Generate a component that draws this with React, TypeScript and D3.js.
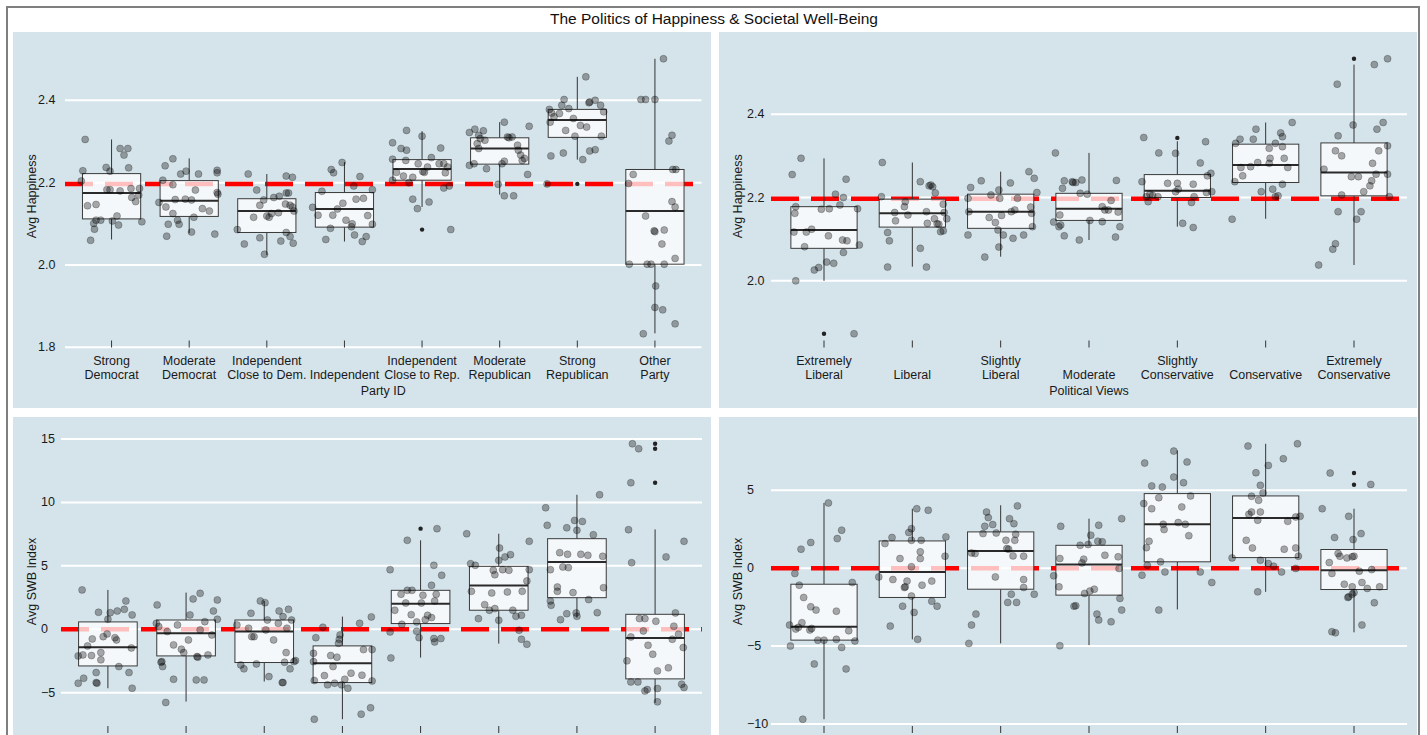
import React from "react";
import * as d3 from "d3";

const FONT = "'Liberation Sans', Arial, Helvetica, sans-serif";

// ---------- categories ----------
const partyCats = [
  "Strong\nDemocrat",
  "Moderate\nDemocrat",
  "Independent\nClose to Dem.",
  "Independent",
  "Independent\nClose to Rep.",
  "Moderate\nRepublican",
  "Strong\nRepublican",
  "Other\nParty",
];
const viewCats = [
  "Extremely\nLiberal",
  "Liberal",
  "Slightly\nLiberal",
  "Moderate",
  "Slightly\nConservative",
  "Conservative",
  "Extremely\nConservative",
];

// ---------- tick values ----------
const hapPartyTicks = [1.8, 2.0, 2.2, 2.4];
const hapViewTicks = [2.0, 2.2, 2.4];
const swbPartyTicks = [-5, 0, 5, 10, 15];
const swbViewTicks = [-10, -5, 0, 5];

// ---------- reference (overall mean) ----------
const hapMean = 2.197;
const swbMean = 0;

// ---------- box stats: Happiness by Party ----------
const hpQ3 = [2.222, 2.205, 2.161, 2.176, 2.256, 2.309, 2.378, 2.232];
const hpMed = [2.175, 2.156, 2.131, 2.136, 2.233, 2.283, 2.352, 2.131];
const hpQ1 = [2.112, 2.118, 2.079, 2.092, 2.206, 2.245, 2.31, 2.002];
const hpHi = [2.305, 2.259, 2.221, 2.25, 2.325, 2.347, 2.457, 2.501];
const hpLo = [2.062, 2.077, 2.024, 2.057, 2.141, 2.171, 2.256, 1.834];
const hpOut = [[], [], [], [], [2.086], [], [2.197], []];

// ---------- box stats: Happiness by Political Views ----------
const hvQ3 = [2.178, 2.196, 2.208, 2.21, 2.255, 2.328, 2.331];
const hvMed = [2.122, 2.162, 2.166, 2.173, 2.216, 2.278, 2.26];
const hvQ1 = [2.078, 2.129, 2.126, 2.145, 2.2, 2.236, 2.204];
const hvHi = [2.294, 2.284, 2.262, 2.307, 2.335, 2.38, 2.519];
const hvLo = [2.0, 2.034, 2.058, 2.098, 2.13, 2.149, 2.038];
const hvOut = [[1.873], [], [], [], [2.343], [], [2.533]];

// ---------- box stats: SWB by Party ----------
const spQ3 = [0.58, 0.73, 0.73, -1.31, 3.07, 4.96, 7.14, 1.18];
const spMed = [-1.42, -0.31, -0.18, -2.68, 2.02, 3.44, 5.3, -0.68];
const spQ1 = [-2.89, -2.1, -2.62, -4.2, 0.45, 1.5, 2.49, -3.91];
const spHi = [3.1, 2.89, 2.23, 1.0, 7.01, 7.53, 10.6, 7.87];
const spLo = [-4.65, -5.7, -4.12, -7.09, -2.23, -1.13, 0.92, -5.8];
const spOut = [[], [], [], [], [7.93], [], [], [14.62, 14.23, 11.55]];

// ---------- box stats: SWB by Political Views ----------
const svQ3 = [-1.03, 1.75, 2.33, 1.47, 4.79, 4.64, 1.2];
const svMed = [-3.76, -0.24, 1.11, 0.24, 2.82, 3.23, -0.13];
const svQ1 = [-4.62, -1.88, -1.35, -1.73, 0.41, 0.68, -1.37];
const svHi = [4.19, 3.82, 4.04, 3.18, 7.56, 7.99, 3.82];
const svLo = [-9.7, -4.57, -4.83, -4.94, -2.65, -1.52, -4.12];
const svOut = [[], [], [], [], [], [], [6.11, 5.36]];

// ---------- jittered points: [value, jitter (fraction of category step)] ----------
const hpPts: number[][][] = [
  [[2.305,-0.34],[2.229,-0.37],[2.204,-0.39],[2.144,-0.31],[2.147,-0.2],[2.101,-0.23],[2.109,-0.2],[2.087,-0.22],[2.06,-0.27],[2.109,-0.14],[2.237,-0.07],[2.228,-0.02],[2.183,-0.06],[2.183,-0.02],[2.107,0.01],[2.119,0.07],[2.097,0.09],[2.18,0.11],[2.283,0.11],[2.283,0.21],[2.267,0.16],[2.236,0.22],[2.186,0.25],[2.164,0.26],[2.154,0.31],[2.17,0.35],[2.186,0.36],[2.105,0.39]],
  [[2.241,-0.31],[2.258,-0.21],[2.206,-0.34],[2.152,-0.39],[2.141,-0.3],[2.099,-0.27],[2.07,-0.29],[2.195,-0.21],[2.159,-0.18],[2.099,-0.13],[2.109,-0.15],[2.125,-0.21],[2.221,-0.11],[2.228,-0.04],[2.16,-0.05],[2.158,0.03],[2.182,0.08],[2.116,0.06],[2.08,0.03],[2.221,0.12],[2.137,0.17],[2.131,0.26],[2.23,0.36],[2.224,0.36],[2.176,0.36],[2.075,0.33],[2.172,0.37]],
  [[2.221,-0.24],[2.086,-0.38],[2.051,-0.29],[2.116,-0.17],[2.182,-0.13],[2.158,-0.04],[2.145,-0.09],[2.066,-0.09],[2.026,-0.03],[2.116,0.03],[2.125,0.06],[2.164,0.09],[2.167,0.16],[2.127,0.15],[2.058,0.18],[2.216,0.25],[2.213,0.33],[2.175,0.25],[2.175,0.28],[2.148,0.24],[2.145,0.3],[2.141,0.33],[2.131,0.35],[2.079,0.25],[2.069,0.3],[2.053,0.34],[2.119,0.0]],
  [[2.249,-0.03],[2.232,-0.17],[2.224,-0.14],[2.179,-0.29],[2.14,-0.41],[2.121,-0.34],[2.089,-0.18],[2.062,-0.24],[2.121,-0.15],[2.136,-0.09],[2.15,-0.02],[2.109,0.02],[2.093,0.09],[2.073,0.13],[2.192,0.12],[2.162,0.245],[2.183,0.36],[2.099,0.36],[2.069,0.28],[2.057,0.23],[2.215,0.2],[2.16,0.15],[2.12,0.3],[2.1,0.1]],
  [[2.327,-0.2],[2.297,-0.38],[2.283,-0.27],[2.279,-0.2],[2.257,-0.38],[2.254,-0.21],[2.225,-0.33],[2.216,-0.24],[2.213,-0.12],[2.206,-0.38],[2.2,-0.17],[2.16,-0.12],[2.137,-0.06],[2.313,0.0],[2.246,-0.05],[2.225,0.03],[2.153,0.09],[2.261,0.12],[2.238,0.07],[2.284,0.24],[2.246,0.22],[2.246,0.28],[2.224,0.3],[2.238,0.33],[2.187,0.28],[2.192,0.35],[2.086,0.37],[2.227,0.01]],
  [[2.322,-0.39],[2.33,-0.32],[2.326,-0.21],[2.315,-0.27],[2.307,-0.25],[2.303,-0.19],[2.295,-0.29],[2.283,-0.27],[2.242,-0.39],[2.246,-0.33],[2.234,-0.17],[2.196,-0.02],[2.168,0.06],[2.168,0.18],[2.347,0.06],[2.246,0.03],[2.252,0.06],[2.311,0.1],[2.311,0.16],[2.291,0.23],[2.279,0.24],[2.267,0.27],[2.259,0.32],[2.254,0.29],[2.337,0.38],[2.22,0.36],[2.309,0.12]],
  [[2.457,0.11],[2.402,-0.17],[2.378,-0.36],[2.369,-0.33],[2.368,-0.23],[2.38,-0.11],[2.388,-0.2],[2.36,-0.3],[2.347,-0.35],[2.327,-0.15],[2.313,-0.03],[2.339,0.04],[2.335,0.12],[2.396,0.16],[2.394,0.15],[2.4,0.23],[2.388,0.3],[2.313,0.31],[2.372,0.34],[2.265,-0.34],[2.272,-0.18],[2.256,0.07],[2.277,0.16],[2.28,0.23],[2.197,-0.39],[2.356,-0.05]],
  [[2.501,0.11],[2.402,-0.18],[2.402,-0.12],[2.402,0.0],[2.315,0.22],[2.301,0.18],[2.22,-0.28],[2.198,-0.34],[2.232,0.23],[2.232,0.27],[2.154,0.22],[2.141,0.26],[2.119,-0.12],[2.083,-0.01],[2.081,0.0],[2.085,0.12],[2.051,0.09],[2.002,-0.33],[2.002,-0.1],[2.002,-0.05],[2.002,0.12],[2.016,0.26],[1.949,0.01],[1.897,0.0],[1.891,0.1],[1.857,0.26],[1.833,-0.15]],
];

const hvPts: number[][][] = [
  [[2.294,-0.26],[2.255,-0.36],[2.162,-0.33],[2.178,-0.32],[2.117,-0.34],[2.117,-0.2],[2.124,-0.14],[2.082,-0.22],[2.0,-0.32],[2.026,-0.11],[2.032,-0.06],[2.045,0.03],[2.042,0.11],[2.108,0.05],[2.172,-0.03],[2.173,0.06],[2.208,0.13],[2.182,0.18],[2.2,0.22],[2.244,0.25],[2.098,0.21],[2.096,0.26],[2.068,0.22],[2.173,0.38],[2.086,0.4],[1.873,0.34]],
  [[2.284,-0.34],[2.202,-0.35],[2.116,-0.28],[2.096,-0.26],[2.033,-0.28],[2.164,-0.2],[2.144,-0.19],[2.178,-0.09],[2.19,-0.08],[2.158,-0.05],[2.238,0.09],[2.078,0.09],[2.033,0.16],[2.166,0.16],[2.228,0.19],[2.23,0.21],[2.226,0.23],[2.211,0.26],[2.138,0.17],[2.149,0.25],[2.137,0.28],[2.136,0.3],[2.118,0.32],[2.12,0.35],[2.149,0.39],[2.184,0.35],[2.164,0.36]],
  [[2.224,-0.34],[2.198,-0.37],[2.166,-0.36],[2.11,-0.37],[2.24,-0.22],[2.206,-0.11],[2.152,-0.13],[2.14,-0.06],[2.218,-0.02],[2.198,-0.01],[2.122,-0.03],[2.11,0.03],[2.081,-0.02],[2.057,-0.18],[2.157,0.01],[2.235,0.11],[2.166,0.12],[2.17,0.16],[2.102,0.14],[2.198,0.19],[2.11,0.26],[2.262,0.32],[2.246,0.38],[2.177,0.34],[2.162,0.35],[2.13,0.36],[2.212,0.41]],
  [[2.307,-0.38],[2.222,-0.3],[2.141,-0.4],[2.134,-0.32],[2.108,-0.28],[2.158,-0.33],[2.236,-0.18],[2.236,-0.15],[2.242,-0.08],[2.21,-0.1],[2.208,-0.02],[2.145,0.01],[2.098,-0.11],[2.178,0.15],[2.17,0.18],[2.142,0.15],[2.193,0.25],[2.241,0.31],[2.165,0.33],[2.13,0.35],[2.105,0.3],[2.17,0.22],[2.238,-0.19],[2.24,-0.28],[2.13,-0.34]],
  [[2.344,-0.38],[2.307,-0.21],[2.238,-0.4],[2.202,-0.35],[2.19,-0.33],[2.208,-0.31],[2.202,-0.22],[2.234,-0.11],[2.306,-0.02],[2.234,0.0],[2.214,-0.02],[2.22,0.01],[2.138,0.06],[2.128,0.18],[2.188,0.16],[2.202,0.19],[2.232,0.18],[2.283,0.26],[2.334,0.32],[2.212,0.33],[2.252,0.34],[2.258,0.38],[2.214,0.39],[2.205,-0.28]],
  [[2.148,-0.38],[2.238,-0.35],[2.33,-0.34],[2.34,-0.29],[2.252,-0.26],[2.272,-0.28],[2.274,-0.17],[2.34,-0.14],[2.364,-0.11],[2.284,-0.09],[2.214,-0.05],[2.318,0.04],[2.294,0.05],[2.282,0.04],[2.22,0.08],[2.33,0.11],[2.202,0.11],[2.204,0.14],[2.355,0.17],[2.346,0.19],[2.232,0.19],[2.294,0.21],[2.322,0.19],[2.272,0.25],[2.38,0.3]],
  [[2.533,0.38],[2.519,0.23],[2.472,-0.19],[2.374,-0.01],[2.38,0.33],[2.364,0.26],[2.348,-0.18],[2.312,-0.21],[2.3,-0.14],[2.268,-0.34],[2.312,0.28],[2.324,0.38],[2.282,0.21],[2.256,0.25],[2.256,0.38],[2.25,-0.03],[2.25,0.05],[2.24,0.2],[2.228,0.18],[2.214,0.11],[2.206,-0.14],[2.202,0.4],[2.166,-0.18],[2.166,0.08],[2.148,0.03],[2.089,-0.21],[2.076,-0.24],[2.038,-0.4]],
];

const spPts: number[][][] = [
  [[3.1,-0.33],[-2.1,-0.38],[-4.25,-0.38],[-3.86,-0.31],[-2.02,-0.32],[-1.31,-0.26],[-0.76,-0.2],[-2.07,-0.21],[-4.2,-0.15],[-4.25,-0.14],[-3.41,-0.15],[1.34,-0.12],[-1.84,-0.09],[-2.41,-0.09],[-0.58,-0.06],[-0.37,-0.01],[0.79,0.0],[1.31,0.03],[-0.66,0.09],[-0.84,0.11],[1.44,0.12],[-2.94,0.14],[1.57,0.21],[2.23,0.23],[-3.41,0.27],[-1.47,0.3],[-4.65,0.31],[1.13,0.31]],
  [[1.92,-0.37],[0.47,-0.38],[0.21,-0.35],[-2.6,-0.32],[-2.94,-0.3],[-2.55,-0.31],[-0.18,-0.24],[-1.23,-0.16],[-3.94,-0.16],[-5.77,-0.26],[0.34,-0.11],[-1.57,-0.06],[-1.84,-0.03],[-0.84,0.03],[1.13,0.05],[2.39,0.09],[-2.15,0.14],[-2.2,0.15],[2.83,0.18],[-0.05,0.18],[-3.99,0.13],[-3.99,0.23],[0.6,0.24],[-2.02,0.28],[-0.45,0.33],[1.44,0.35],[0.79,0.4],[2.31,0.4]],
  [[0.34,-0.35],[-2.81,-0.3],[-3.12,-0.26],[0.08,-0.2],[1.26,-0.17],[-0.58,-0.16],[-0.58,-0.13],[-2.73,-0.1],[2.23,-0.05],[2.1,0.01],[-0.05,0.02],[0.73,0.04],[-3.73,0.06],[-0.84,0.12],[1.44,0.19],[0.47,0.18],[1.0,0.24],[-4.2,0.23],[-4.2,0.24],[-2.6,0.26],[-1.84,0.28],[0.08,0.29],[1.57,0.31],[-3.12,0.33],[0.73,0.35],[-2.55,0.38],[-2.47,0.4]],
  [[0.16,-0.25],[-0.66,-0.34],[-1.89,-0.37],[-2.55,-0.37],[-4.04,-0.36],[-7.09,-0.36],[-3.65,-0.23],[-4.38,-0.19],[-2.07,-0.15],[-2.94,-0.12],[-4.25,-0.1],[-2.2,-0.07],[-1.1,-0.05],[-0.79,-0.04],[-0.45,-0.03],[-4.38,-0.01],[-3.94,0.03],[-4.65,0.07],[-3.46,0.11],[0.47,0.22],[-1.6,0.27],[-1.6,0.38],[-3.62,0.25],[-4.07,0.38],[-6.19,0.36],[-6.69,0.24],[0.97,0.37]],
  [[7.93,0.21],[7.01,-0.17],[4.7,-0.39],[5.04,0.17],[4.25,0.27],[3.46,0.14],[3.07,-0.17],[3.07,-0.11],[2.76,-0.25],[2.68,0.03],[2.76,0.2],[2.07,-0.19],[2.07,0.01],[2.23,0.18],[1.5,-0.33],[1.15,-0.12],[1.1,0.09],[0.92,0.14],[0.76,0.06],[0.39,-0.24],[0.58,-0.05],[-0.21,-0.39],[-0.16,-0.05],[-0.66,-0.02],[-0.73,0.17],[-0.73,0.26],[-1.0,0.18],[-2.26,-0.38]],
  [[7.53,-0.41],[6.93,0.39],[5.17,-0.36],[5.04,-0.3],[6.4,0.01],[5.43,0.0],[5.7,0.08],[5.88,0.15],[4.65,-0.07],[4.3,-0.05],[4.7,0.05],[4.65,0.13],[4.7,0.39],[3.81,0.36],[2.99,-0.35],[2.86,-0.09],[2.94,0.11],[2.99,0.3],[1.94,-0.18],[1.5,-0.12],[1.63,-0.05],[1.5,0.18],[1.02,0.22],[1.1,0.29],[0.84,-0.26],[0.71,0.0],[-0.08,0.26],[-0.79,0.29],[-1.18,0.36]],
  [[10.6,0.29],[9.58,-0.4],[8.19,-0.38],[8.0,-0.13],[8.58,-0.03],[8.5,0.07],[7.8,0.0],[7.45,0.21],[6.04,-0.22],[5.91,-0.12],[5.91,0.05],[5.83,0.14],[5.75,0.33],[4.7,-0.34],[4.91,-0.18],[4.86,-0.11],[3.33,-0.25],[2.99,-0.25],[2.89,-0.05],[3.28,0.34],[2.23,-0.34],[1.89,-0.33],[2.34,0.15],[1.23,-0.13],[1.29,-0.01],[1.02,0.0],[0.76,-0.21],[1.31,0.26]],
  [[14.62,-0.29],[14.23,-0.21],[11.55,-0.31],[7.85,-0.34],[6.93,0.37],[5.25,-0.3],[5.7,0.14],[0.84,-0.2],[0.84,-0.13],[0.63,0.01],[1.29,0.26],[0.24,0.24],[-0.13,-0.15],[-0.6,-0.31],[-0.79,0.22],[-0.39,0.3],[-1.26,-0.09],[-1.44,0.36],[-1.97,-0.03],[-2.49,-0.36],[-3.04,0.17],[-3.28,0.03],[-4.15,-0.31],[-4.15,-0.22],[-4.86,-0.13],[-4.75,-0.1],[-4.67,0.03],[-4.33,0.34],[-4.59,0.37],[-5.72,0.03]],
];

const svPts: number[][][] = [
  [[4.19,0.05],[2.44,0.2],[1.9,0.15],[1.65,-0.15],[1.22,-0.26],[-0.34,-0.33],[-1.09,-0.28],[-0.92,0.32],[-1.88,-0.23],[-2.48,-0.15],[-2.69,-0.09],[-2.76,0.14],[-3.65,-0.39],[-3.5,-0.25],[-3.91,-0.32],[-3.8,-0.29],[-3.97,-0.16],[-3.87,-0.14],[-4.02,0.28],[-4.62,-0.07],[-4.62,0.0],[-4.57,0.14],[-4.68,0.35],[-5.0,-0.38],[-5.09,0.2],[-6.15,-0.11],[-6.47,0.25],[-9.7,-0.24]],
  [[3.82,0.05],[3.72,0.18],[1.97,-0.23],[1.58,-0.31],[2.29,-0.04],[2.54,-0.01],[1.79,-0.01],[1.79,0.1],[2.01,0.38],[1.05,0.09],[0.62,0.09],[0.62,-0.14],[0.77,0.37],[-0.56,-0.38],[-0.73,-0.22],[-0.83,-0.06],[0.09,-0.01],[-1.09,0.11],[-0.83,0.22],[-1.2,-0.08],[-1.24,-0.09],[-1.79,-0.01],[-2.12,0.22],[-2.44,0.28],[-2.44,-0.11],[-2.84,0.02],[-3.72,-0.25],[-4.57,0.06]],
  [[4.0,0.19],[3.61,-0.16],[3.25,-0.14],[3.18,0.1],[2.86,0.15],[2.8,-0.09],[2.69,-0.18],[2.26,-0.05],[2.22,-0.2],[2.18,0.17],[1.79,0.06],[1.79,0.16],[1.26,0.07],[1.22,0.09],[0.98,-0.33],[0.94,-0.29],[0.79,0.14],[0.77,0.26],[-0.56,-0.06],[-0.73,0.26],[-1.24,0.26],[-1.67,0.38],[-1.67,0.12],[-2.2,0.08],[-2.2,0.18],[-2.95,-0.28],[-3.65,-0.33],[-4.83,-0.36]],
  [[2.69,-0.32],[0.62,-0.33],[-1.2,-0.34],[-0.49,-0.4],[-4.98,-0.33],[-2.44,-0.17],[2.76,0.11],[2.12,0.02],[1.47,-0.1],[1.52,-0.01],[1.73,0.1],[1.69,0.15],[0.83,0.18],[0.73,0.33],[0.58,-0.06],[0.34,-0.08],[3.18,0.37],[-0.02,0.34],[-1.62,-0.05],[-1.47,0.01],[-1.35,0.06],[-2.41,-0.15],[-1.94,0.35],[-2.69,0.37],[-2.95,0.09],[-3.33,0.11],[-3.44,0.25]],
  [[7.52,-0.04],[6.82,0.11],[6.75,-0.37],[5.85,-0.04],[5.49,0.07],[5.28,-0.29],[5.21,-0.17],[4.53,-0.21],[4.64,0.15],[4.15,-0.38],[3.82,-0.29],[3.93,0.05],[2.93,0.01],[2.82,0.09],[2.82,-0.16],[2.48,-0.15],[2.09,0.13],[1.73,-0.32],[1.32,-0.35],[0.41,-0.19],[0.19,-0.34],[-0.24,-0.14],[-0.45,-0.4],[-0.24,0.26],[-0.92,0.39],[-2.69,-0.21]],
  [[7.84,-0.2],[7.99,0.36],[7.03,0.2],[6.6,0.03],[6.13,-0.11],[5.32,-0.06],[4.83,-0.03],[4.62,-0.16],[4.36,-0.08],[3.61,-0.16],[3.61,-0.06],[3.46,-0.19],[3.08,-0.09],[3.29,0.34],[3.33,0.39],[3.01,0.25],[1.79,-0.22],[1.3,-0.15],[1.22,0.21],[1.3,0.34],[0.77,0.37],[0.66,-0.38],[0.51,-0.06],[0.3,0.03],[0.13,0.09],[-0.02,0.34],[-0.24,0.18],[-1.52,-0.09]],
  [[6.11,-0.27],[5.38,0.19],[3.82,-0.36],[3.33,-0.06],[2.22,0.08],[1.97,-0.22],[1.84,-0.01],[0.94,-0.18],[0.77,-0.16],[0.66,-0.08],[0.73,-0.02],[0.77,0.0],[0.36,-0.28],[-0.34,-0.25],[-0.19,0.06],[-0.09,0.2],[-1.03,-0.11],[-1.2,-0.02],[-0.92,0.09],[-1.3,0.15],[-1.2,0.29],[-1.56,0.0],[-1.67,-0.02],[-1.84,-0.06],[-1.88,-0.07],[-2.22,0.23],[-3.65,0.09],[-4.08,-0.25],[-4.15,-0.21]],
];

type PanelProps = {
  cats: string[];
  q1: number[]; med: number[]; q3: number[]; lo: number[]; hi: number[];
  outl: number[][];
  pts: number[][][];
  ticks: number[];
  fmt: (v: number) => string;
  refVal: number;
  yTitle: string;
  xTitle: string;
  bg: { x: number; y: number; w: number; h: number };
  plot: { l: number; r: number; t: number; b: number };
  tickX: number;
  titleX: number;
};

function Panel(p: PanelProps) {
  const allVals = [
    ...p.pts.flat().map((d) => d[0]),
    ...p.lo, ...p.hi, ...p.outl.flat(),
  ];
  const [mn, mx] = d3.extent(allVals) as [number, number];
  const pad = (mx - mn) * 0.05;
  const y = d3.scaleLinear().domain([mn - pad, mx + pad]).range([p.plot.b, p.plot.t]);
  const x = d3.scalePoint<string>().domain(p.cats).range([p.plot.l, p.plot.r]).padding(0.6);
  const step = x.step();
  const bw = step * 0.75;
  const txt = "#1a1a1a";
  return (
    <g>
      <rect x={p.bg.x} y={p.bg.y} width={p.bg.w} height={p.bg.h} fill="#d5e4eb" />
      {p.ticks.map((t) => (
        <g key={"g" + t}>
          <line x1={p.plot.l} x2={p.plot.r} y1={y(t)} y2={y(t)} stroke="#ffffff" strokeWidth={2} />
          <text x={p.tickX} y={y(t)} dominantBaseline="central" fontSize={12.5} fill={txt} fontFamily={FONT}>
            {p.fmt(t)}
          </text>
        </g>
      ))}
      <line
        x1={p.plot.l} x2={p.plot.r} y1={y(p.refVal)} y2={y(p.refVal)}
        stroke="#ff0000" strokeWidth={4.5} strokeDasharray="28 12"
      />
      {p.cats.map((c, i) => {
        const cx = x(c) as number;
        return (
          <g key={"b" + c}>
            <line x1={cx} x2={cx} y1={y(p.q3[i])} y2={y(p.hi[i])} stroke="#333" strokeWidth={1} />
            <line x1={cx} x2={cx} y1={y(p.q1[i])} y2={y(p.lo[i])} stroke="#333" strokeWidth={1} />
            <rect
              x={cx - bw / 2} y={y(p.q3[i])} width={bw} height={y(p.q1[i]) - y(p.q3[i])}
              fill="#ffffff" fillOpacity={0.75} stroke="#3a3a3a" strokeWidth={1}
            />
            <line x1={cx - bw / 2} x2={cx + bw / 2} y1={y(p.med[i])} y2={y(p.med[i])} stroke="#2a2a2a" strokeWidth={2} />
            {p.outl[i].map((v, k) => (
              <circle key={"o" + k} cx={cx} cy={y(v)} r={2.2} fill="#222" />
            ))}
          </g>
        );
      })}
      {p.cats.map((c, i) => {
        const cx = x(c) as number;
        return (
          <g key={"p" + c}>
            {p.pts[i].map((d, k) => (
              <circle
                key={k} cx={cx + d[1] * step} cy={y(d[0])} r={3.5}
                fill="#000" fillOpacity={0.33} stroke="#000" strokeOpacity={0.3} strokeWidth={0.8}
              />
            ))}
          </g>
        );
      })}
      {p.cats.map((c) => {
        const cx = x(c) as number;
        const lines = c.split("\n");
        return (
          <g key={"x" + c}>
            <line x1={cx} x2={cx} y1={p.plot.b - 7} y2={p.plot.b} stroke="#333" strokeWidth={1} />
            {lines.map((ln, k) => (
              <text
                key={k} x={cx} y={p.plot.b + 27.5 - (lines.length - 1 - k) * 14}
                textAnchor="middle" dominantBaseline="central" fontSize={12.5} fill={txt} fontFamily={FONT}
              >
                {ln}
              </text>
            ))}
          </g>
        );
      })}
      <text
        x={(p.plot.l + p.plot.r) / 2} y={p.plot.b + 43.5} textAnchor="middle" dominantBaseline="central"
        fontSize={12.5} fill={txt} fontFamily={FONT}
      >
        {p.xTitle}
      </text>
      <text
        transform={`translate(${p.titleX},${(p.plot.t + p.plot.b) / 2}) rotate(-90)`}
        textAnchor="middle" dominantBaseline="central" fontSize={12.5} fill={txt} fontFamily={FONT}
      >
        {p.yTitle}
      </text>
    </g>
  );
}

export default function App() {
  const f1 = d3.format(".1f");
  const f0 = d3.format("d");
  return (
    <div style={{ position: "fixed", left: 0, top: 0, width: 1427, height: 735, overflow: "hidden", background: "#fff" }}>
      <svg width={1427} height={820} style={{ display: "block" }}>
        <rect x={0} y={0} width={1427} height={820} fill="#ffffff" />
        <rect x={7} y={7} width={1412} height={900} fill="none" stroke="#7f7f7f" strokeWidth={2} />
        <text x={714} y={18.5} textAnchor="middle" dominantBaseline="central" fontSize={15.5} fill="#111" fontFamily={FONT}>
          The Politics of Happiness &amp; Societal Well-Being
        </text>
        <Panel
          cats={partyCats} q1={hpQ1} med={hpMed} q3={hpQ3} lo={hpLo} hi={hpHi} outl={hpOut} pts={hpPts}
          ticks={hapPartyTicks} fmt={f1} refVal={hapMean} yTitle="Avg Happiness" xTitle="Party ID"
          bg={{ x: 13, y: 32, w: 698, h: 376 }} plot={{ l: 65, r: 701.5, t: 45, b: 347.5 }} tickX={38} titleX={32}
        />
        <Panel
          cats={viewCats} q1={hvQ1} med={hvMed} q3={hvQ3} lo={hvLo} hi={hvHi} outl={hvOut} pts={hvPts}
          ticks={hapViewTicks} fmt={f1} refVal={hapMean} yTitle="Avg Happiness" xTitle="Political Views"
          bg={{ x: 719, y: 32, w: 698, h: 376 }} plot={{ l: 771, r: 1407, t: 45, b: 347.5 }} tickX={747} titleX={738}
        />
        <Panel
          cats={partyCats} q1={spQ1} med={spMed} q3={spQ3} lo={spLo} hi={spHi} outl={spOut} pts={spPts}
          ticks={swbPartyTicks} fmt={f0} refVal={swbMean} yTitle="Avg SWB Index" xTitle="Party ID"
          bg={{ x: 13, y: 417, w: 698, h: 376 }} plot={{ l: 61, r: 702, t: 430, b: 733 }} tickX={41} titleX={32}
        />
        <Panel
          cats={viewCats} q1={svQ1} med={svMed} q3={svQ3} lo={svLo} hi={svHi} outl={svOut} pts={svPts}
          ticks={swbViewTicks} fmt={f0} refVal={swbMean} yTitle="Avg SWB Index" xTitle="Political Views"
          bg={{ x: 719, y: 417, w: 698, h: 376 }} plot={{ l: 771, r: 1407, t: 430, b: 733 }} tickX={747} titleX={738}
        />
      </svg>
    </div>
  );
}
